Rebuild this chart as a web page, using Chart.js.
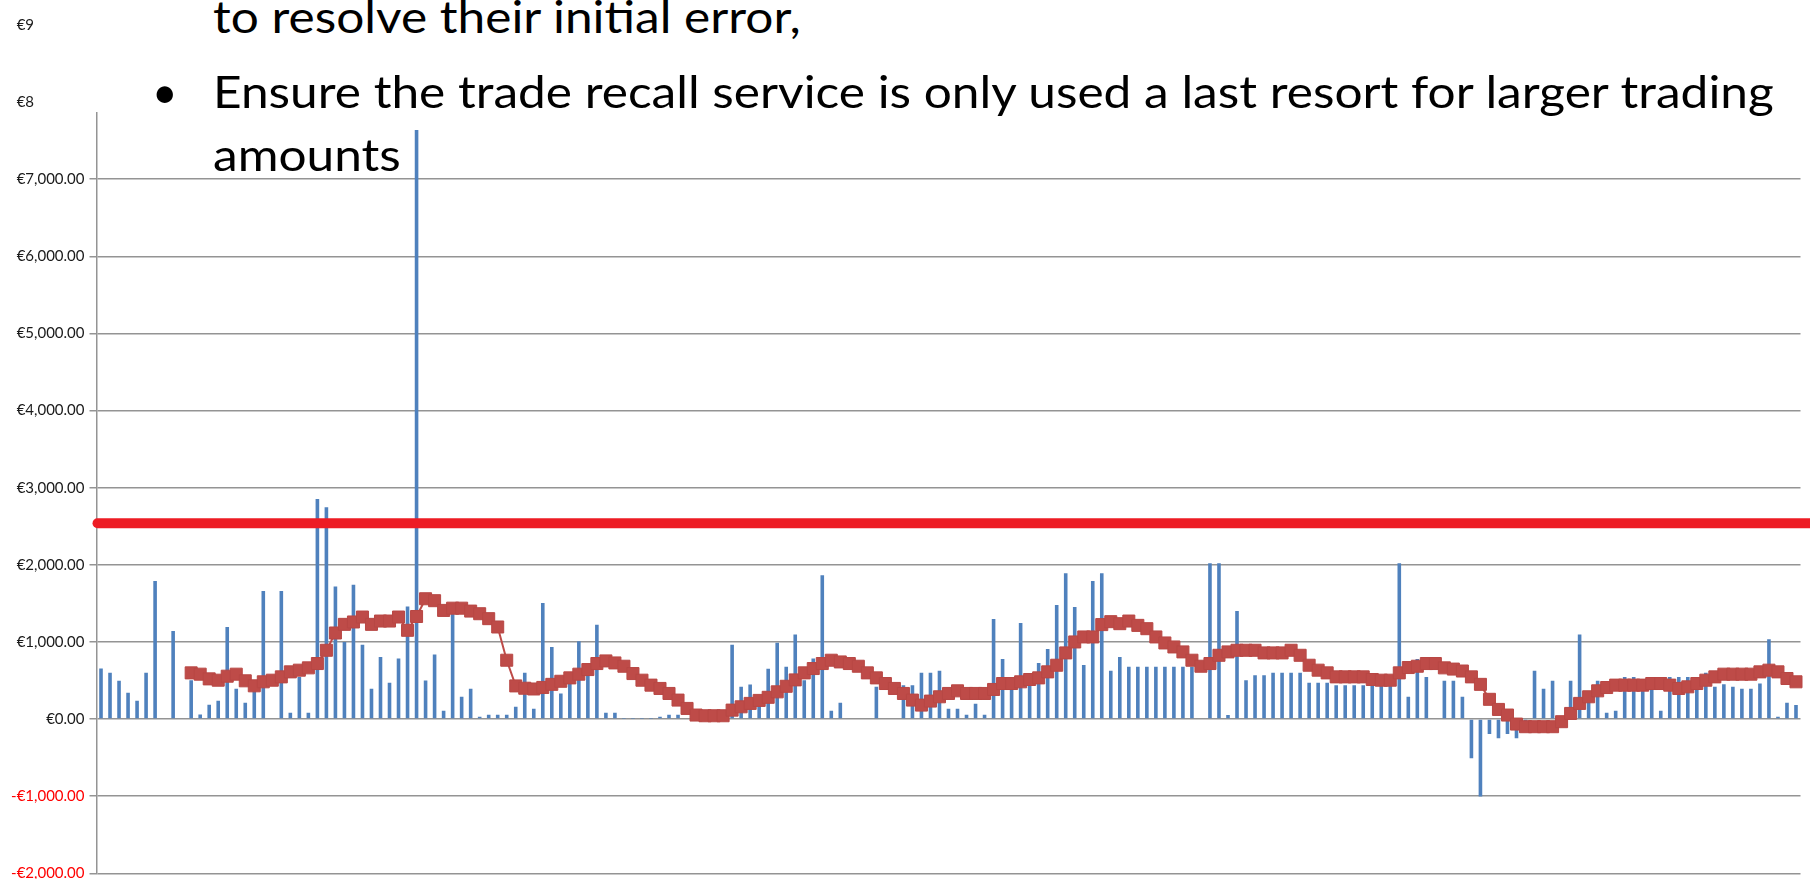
<!DOCTYPE html>
<html>
<head>
<meta charset="utf-8">
<script src="https://cdn.jsdelivr.net/npm/chart.js@4.4.1/dist/chart.umd.min.js"></script>
<style>
  html, body { margin: 0; padding: 0; background: #fff; overflow: hidden; }
  body { width: 1810px; height: 879px; position: relative; }
  #wrap { position: absolute; left: 0; top: 0; width: 1810px; height: 900px; }
  #cover { position: absolute; left: 34px; top: 0; width: 1776px; height: 112px; background: #fff; }
  .line {
    position: absolute; left: 213px; top: 0;
    font-family: Lato, "Open Sans", sans-serif; font-size: 44px; line-height: 1.2;
    white-space: nowrap; color: #000; transform-origin: 0 0;
  }
  #bullet { left: 152px; }
</style>
</head>
<body>
<div id="wrap"><canvas id="chart" width="1810" height="900"></canvas></div>
<div id="cover"></div>
<div class="line" id="l1">to resolve their initial error,</div>
<div class="line" id="bullet">•</div>
<div class="line" id="l2">Ensure the trade recall service is only used a last resort for larger trading</div>
<div class="line" id="l3">amounts</div>

<script>
// daily trade amounts (EUR), one per trading day
const amounts = [
  655, 600, 496, 340, 237, 600, 1789, 0, 1142, 0,
  504, 60, 185, 237, 1194, 392, 211, 460, 1659, 0,
  1659, 82, 547, 82, 2853, 2745, 1720, 1000, 1741, 965,
  392, 806, 470, 784, 1461, 7640, 500, 836, 108, 1370,
  289, 392, 30, 56, 56, 56, 160, 600, 134, 1504,
  935, 330, 461, 1009, 698, 1224, 82, 82, 5, 5,
  5, 5, 30, 56, 56, 10, 10, 10, 10, 10,
  965, 418, 448, 250, 651, 991, 677, 1095, 504, 784,
  1866, 108, 211, 0, 0, 0, 418, 0, 0, 440,
  440, 600, 600, 625, 134, 134, 56, 200, 56, 1297,
  780, 500, 1245, 500, 728, 909, 1478, 1892, 1452, 702,
  1789, 1892, 625, 806, 677, 677, 677, 677, 677, 677,
  677, 677, 0, 2021, 2021, 52, 1400, 504, 569, 569,
  600, 600, 600, 600, 470, 470, 470, 440, 440, 440,
  440, 440, 440, 440, 2021, 289, 780, 547, 0, 496,
  496, 289, -509, -1004, -194, -250, -194, -250, -100, 625,
  392, 496, 0, 496, 1095, 289, 496, 82, 108, 547,
  547, 461, 461, 108, 547, 547, 547, 461, 600, 418,
  450, 418, 392, 392, 461, 1034, 30, 211, 181
];

// moving average line (starts at the 11th day)
const movingAvg = [
  null, null, null, null, null, null, null, null, null, null,
  599, 582, 521, 504, 556, 582, 496, 431, 483, 504,
  547, 612, 634, 664, 720, 892, 1116, 1228, 1259, 1323,
  1228, 1271, 1271, 1323, 1151, 1330, 1560, 1535, 1409, 1438,
  1438, 1400, 1366, 1302, 1194, 763, 430, 400, 390, 410,
  450, 490, 534, 582, 642, 720, 754, 728, 685, 590,
  504, 440, 397, 332, 246, 138, 52, 43, 43, 43,
  116, 159, 203, 242, 282, 353, 425, 508, 599, 655,
  720, 763, 741, 720, 685, 599, 534, 461, 397, 332,
  246, 181, 233, 289, 332, 366, 332, 332, 332, 384,
  461, 461, 483, 513, 534, 612, 698, 858, 1000, 1065,
  1065, 1225, 1263, 1237, 1271, 1215, 1172, 1065, 987, 935,
  871, 763, 685, 720, 827, 871, 892, 892, 892, 858,
  858, 858, 892, 827, 698, 634, 599, 547, 547, 547,
  547, 513, 504, 504, 599, 668, 685, 720, 720, 664,
  648, 623, 547, 450, 256, 125, 52, -65, -99, -99,
  -99, -99, -34, 73, 203, 289, 366, 409, 440, 440,
  440, 440, 461, 461, 440, 397, 418, 461, 504, 547,
  582, 582, 582, 582, 612, 634, 612, 526, 483
];

const days = amounts.map((_, i) => "Day " + (i + 1));
const yTicks = { min: -2000, max: 9000, step: 1000 };
const threshold = 2540;

function euro(v) {
  const s = "€" + Math.abs(v).toLocaleString("en-US", { minimumFractionDigits: 2, maximumFractionDigits: 2 });
  return v < 0 ? "-" + s : s;
}

const thresholdLine = {
  id: "thresholdLine",
  afterDatasetsDraw(chart) {
    const { ctx, chartArea, scales } = chart;
    const y = scales.y.getPixelForValue(threshold);
    ctx.save();
    ctx.strokeStyle = "#ED1C24";
    ctx.lineWidth = 10;
    ctx.lineCap = "round";
    ctx.beginPath();
    ctx.moveTo(chartArea.left + 1, y);
    ctx.lineTo(chartArea.right + 10, y);
    ctx.stroke();
    ctx.restore();
  }
};

new Chart(document.getElementById("chart"), {
  type: "bar",
  data: {
    labels: days,
    datasets: [
      {
        type: "line",
        data: movingAvg,
        order: 0,
        borderColor: "#BE4B48",
        borderWidth: 2,
        tension: 0,
        pointStyle: "rect",
        pointRadius: 8.5,
        pointHoverRadius: 8.5,
        pointBackgroundColor: "#BE4B48",
        pointBorderColor: "#B84744",
        pointBorderWidth: 1
      },
      {
        type: "bar",
        data: amounts,
        order: 1,
        backgroundColor: "#4F81BD",
        barPercentage: 0.4,
        categoryPercentage: 1
      }
    ]
  },
  options: {
    responsive: false,
    animation: false,
    devicePixelRatio: 1,
    layout: { padding: { top: 25, bottom: 26.7, left: 0, right: 0 } },
    plugins: { legend: { display: false }, tooltip: { enabled: false } },
    scales: {
      x: { display: false },
      y: {
        min: yTicks.min,
        max: yTicks.max,
        afterFit(scale) { scale.width = 96.5; },
        ticks: {
          stepSize: yTicks.step,
          padding: 5,
          color: ctx => ctx.tick.value < 0 ? "#ff0000" : "#1a1a1a",
          font: { family: "Lato", size: 15 },
          callback: v => euro(v)
        },
        grid: { color: "#949494", lineWidth: 1.5, tickLength: 7 },
        border: { color: "#949494", width: 1.5 }
      }
    }
  },
  plugins: [thresholdLine]
});

function setBaseline(el, baseline) {
  el.style.top = "0px";
  const probe = document.createElement("span");
  probe.style.cssText = "display:inline-block;width:0;height:0;vertical-align:baseline";
  el.appendChild(probe);
  const off = probe.getBoundingClientRect().top - el.getBoundingClientRect().top;
  el.removeChild(probe);
  el.style.top = (baseline - off) + "px";
}

function placeText() {
  const l2 = document.getElementById("l2");
  const sx = 1561 / l2.offsetWidth;
  ["l1", "l2", "l3"].forEach(id => {
    document.getElementById(id).style.transform = "scaleX(" + sx + ")";
  });
  setBaseline(document.getElementById("l1"), 33);
  setBaseline(document.getElementById("bullet"), 108);
  setBaseline(l2, 108);
  setBaseline(document.getElementById("l3"), 171);
}

placeText();
if (document.fonts) document.fonts.ready.then(placeText);
</script>
</body>
</html>
